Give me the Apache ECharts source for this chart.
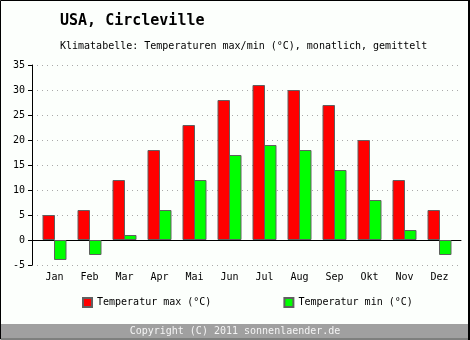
<!DOCTYPE html>
<html>
<head>
<meta charset="utf-8">
<script src="https://cdn.jsdelivr.net/npm/echarts@6/dist/echarts.min.js"></script>
<style>
html,body{margin:0;padding:0;background:#fcfffc;}
#c{width:470px;height:340px;}
</style>
</head>
<body>
<div id="c"></div>
<script>
const months = ['Jan','Feb','Mar','Apr','Mai','Jun','Jul','Aug','Sep','Okt','Nov','Dez'];
const tempMax = [5, 6, 12, 18, 23, 28, 31, 30, 27, 20, 12, 6];
const tempMin = [-4, -3, 1, 6, 12, 17, 19, 18, 14, 8, 2, -3];
const yTicks = [-5, 0, 5, 10, 15, 20, 25, 30, 35];
const seriesNames = ['Temperatur max (°C)', 'Temperatur min (°C)'];

const font = 'DejaVu Sans Mono';
const chart = echarts.init(document.getElementById('c'), null, {renderer: 'canvas'});
const yMin = yTicks[0], yMax = yTicks[yTicks.length - 1], yStep = yTicks[1] - yTicks[0];

chart.setOption({
  backgroundColor: '#fcfffc',
  animation: false,
  title: [
    {text: 'USA, Circleville', left: 55, top: 9,
     textStyle: {fontFamily: font, fontSize: 15, fontWeight: 'bold', color: '#000'}},
    {text: 'Klimatabelle: Temperaturen max/min (°C), monatlich, gemittelt', left: 55, top: 36,
     textStyle: {fontFamily: font, fontSize: 10, fontWeight: 'normal', color: '#000'}}
  ],
  legend: {
    left: 77, top: 292, itemWidth: 9, itemHeight: 9, itemGap: 72,
    icon: 'rect',
    textStyle: {fontFamily: font, fontSize: 10, color: '#000'},
    data: seriesNames
  },
  grid: [
    {left: 37, right: 13, top: 65, bottom: 75},
    {left: 32, right: 9, top: 65, bottom: 75}
  ],
  xAxis: [
    {type: 'category', gridIndex: 0, data: months,
     axisLine: {show: false, onZero: false}, axisTick: {show: false},
     axisLabel: {fontFamily: font, fontSize: 10, color: '#000', margin: 7}},
    {type: 'value', gridIndex: 1, min: 0, max: 1, show: true,
     axisLine: {show: true, onZero: true, lineStyle: {color: '#000', width: 1}},
     axisTick: {show: false}, axisLabel: {show: false}, splitLine: {show: false}}
  ],
  yAxis: [
    {type: 'value', gridIndex: 0, min: yMin, max: yMax, interval: yStep, show: false},
    {type: 'value', gridIndex: 1, min: yMin, max: yMax, interval: yStep,
     axisLine: {show: true, lineStyle: {color: '#000', width: 1}},
     axisTick: {show: true, length: 4, lineStyle: {color: '#000'}},
     axisLabel: {fontFamily: font, fontSize: 10, color: '#000', margin: 7},
     splitLine: {show: true, lineStyle: {color: '#aaa', type: [1, 4], width: 1}}}
  ],
  series: [
    {name: seriesNames[0], type: 'bar', xAxisIndex: 0, yAxisIndex: 0, data: tempMax,
     barWidth: 12.5, barGap: '-8%', z: 3,
     itemStyle: {color: '#ff0000', borderColor: '#606060', borderWidth: 1}},
    {name: seriesNames[1], type: 'bar', xAxisIndex: 0, yAxisIndex: 0, data: tempMin,
     barWidth: 12.5, barGap: '-8%', z: 3,
     itemStyle: {color: '#00ff00', borderColor: '#606060', borderWidth: 1}},
    {name: 'axes', type: 'line', xAxisIndex: 1, yAxisIndex: 1, data: [], silent: true}
  ],
  graphic: [
    {type: 'rect', z: 100, shape: {x: 1, y: 324, width: 467, height: 14},
     style: {fill: '#a0a0a0'}, silent: true},
    {type: 'text', z: 101, x: 235, y: 331,
     style: {text: 'Copyright (C) 2011 sonnenlaender.de', fill: '#f4f4f4',
             font: '10px "DejaVu Sans Mono"', align: 'center', verticalAlign: 'middle'}},
    {type: 'rect', z: 102, shape: {x: 0.5, y: 0.5, width: 468, height: 338.5},
     style: {fill: null, stroke: '#000', lineWidth: 1}, silent: true},
    {type: 'rect', z: 102, shape: {x: 468, y: 0, width: 2, height: 340},
     style: {fill: '#000'}, silent: true}
  ]
});
</script>
</body>
</html>
